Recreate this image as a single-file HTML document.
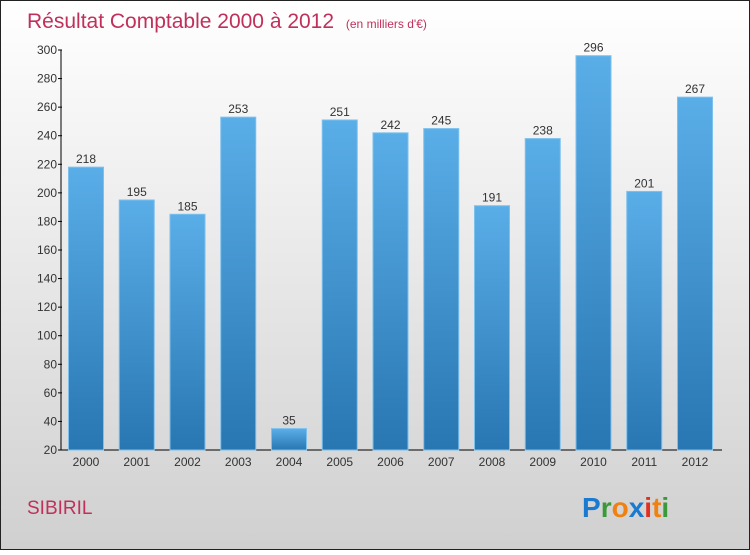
<!DOCTYPE html>
<html><head><meta charset="utf-8"><style>
body{margin:0;width:750px;height:550px;overflow:hidden;font-family:"Liberation Sans",sans-serif}
</style></head><body>
<svg width="750" height="550" xmlns="http://www.w3.org/2000/svg">
<defs>
<linearGradient id="bg" x1="0" y1="0" x2="0" y2="1"><stop offset="0" stop-color="#ffffff"/><stop offset="1" stop-color="#d0d0d0"/></linearGradient>
<linearGradient id="bar" x1="0" y1="0" x2="0" y2="1"><stop offset="0" stop-color="#5aaee8"/><stop offset="1" stop-color="#2876b2"/></linearGradient>
</defs>
<rect x="0.5" y="0.5" width="749" height="549" fill="url(#bg)" stroke="#222"/>
<text x="27" y="28" font-size="21" fill="#c0305a">Résultat Comptable 2000 à 2012 <tspan font-size="12" dx="6">(en milliers d'€)</tspan></text>
<g id="yaxis"></g>
<g id="bars"></g>
<text x="27" y="514" font-size="19" fill="#c0305a">SIBIRIL</text>
<g font-size="28" font-weight="bold" font-family="Liberation Sans, sans-serif">
<text x="582" y="517"><tspan fill="#1a7ad0">P</tspan><tspan fill="#3a9a3a">r</tspan><tspan fill="#f08010">o</tspan><tspan fill="#1a7ad0">x</tspan><tspan fill="#e03020">i</tspan><tspan fill="#f08010">t</tspan><tspan fill="#3a9a3a">i</tspan></text>
</g>
</svg>
<script>
const categories=["2000","2001","2002","2003","2004","2005","2006","2007","2008","2009","2010","2011","2012"];
const values=[218,195,185,253,35,251,242,245,191,238,296,201,267];
const yTicks=[20,40,60,80,100,120,140,160,180,200,220,240,260,280,300];
const NS="http://www.w3.org/2000/svg";
const y=v=>450-(v-20)*400/280;
const x=i=>86+i*50.75;
function mk(t,a,p){const e=document.createElementNS(NS,t);for(const k in a)e.setAttribute(k,a[k]);p.appendChild(e);return e;}
const ya=document.getElementById('yaxis'),bg=document.getElementById('bars');
const ax=mk('line',{x1:61,y1:50,x2:61,y2:450,stroke:'#000'},ya);


const xl=mk('line',{x1:61,y1:450,x2:722,y2:450,stroke:'#000'},ya);


yTicks.forEach(v=>{
 const tk=mk('line',{x1:58,y1:y(v),x2:62,y2:y(v),stroke:'#000'},ya);
 
 
 const t=mk('text',{x:57,y:y(v)+4,'font-size':12,'text-anchor':'end',fill:'#333'},ya);
 t.textContent=v;
 
 
});
values.forEach((v,i)=>{
 const r=mk('rect',{x:x(i)-17.5,y:y(v),width:35,height:450-y(v),fill:'url(#bar)',stroke:'#7cc0ee','stroke-width':1},bg);
 
 
 const l=mk('text',{x:x(i),y:y(v)-4,'font-size':12,'text-anchor':'middle',fill:'#333'},bg);
 l.textContent=v;
 
 
 const c=mk('text',{x:x(i),y:466,'font-size':12,'text-anchor':'middle',fill:'#333'},bg);
 c.textContent=categories[i];
 
 
});
</script>
</body></html>
